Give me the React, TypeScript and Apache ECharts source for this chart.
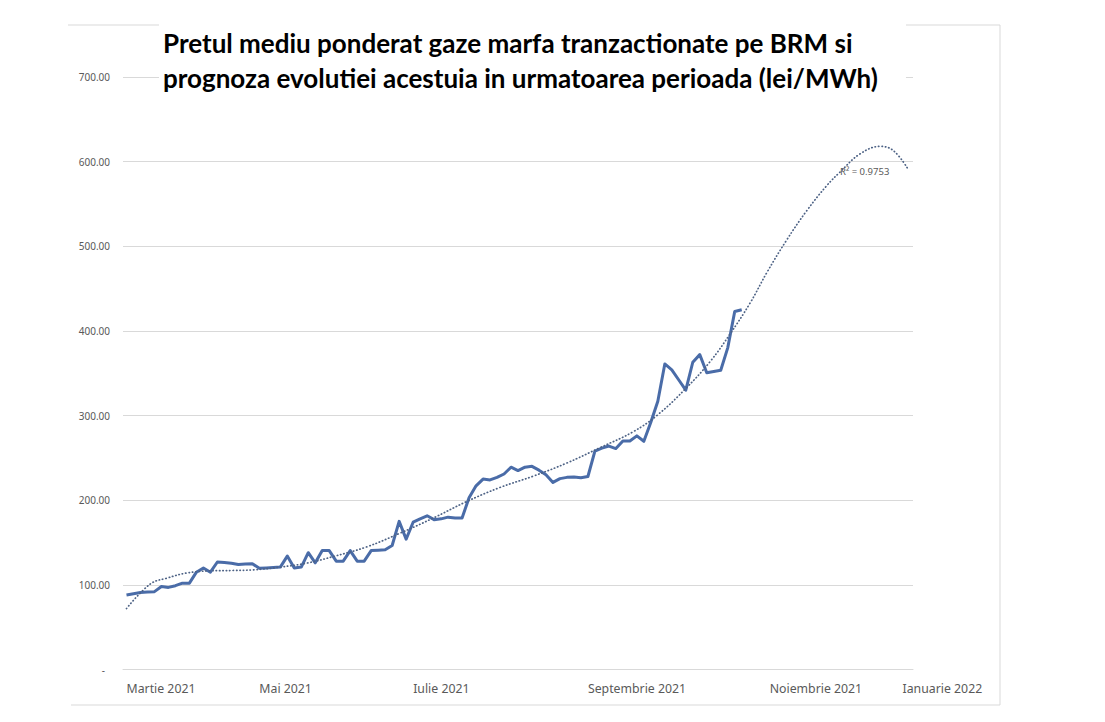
import React, { useEffect, useRef } from "react";
import * as echarts from "echarts";

const TITLE_LINES = [
  "Pretul mediu ponderat gaze marfa tranzactionate pe BRM si",
  "prognoza evolutiei acestuia in urmatoarea perioada (lei/MWh)",
];

const X_TICK_LABELS = [
  "Martie 2021",
  "Mai 2021",
  "Iulie 2021",
  "Septembrie 2021",
  "Noiembrie 2021",
  "Ianuarie 2022",
];
const X_TICK_INDEX = [0, 19, 41, 66, 92, 111];
const X_COUNT = 113;

const PRICES = [
  88, 89.5, 91, 91.5, 92, 98, 97, 99, 102, 102,
  115, 120, 115, 127, 126.5, 125.5, 124, 124.5, 125, 119.5,
  120, 120.5, 121, 134, 120, 121, 138, 126, 140.5, 140.5,
  128, 128, 140.5, 128, 128, 140.5, 141, 141.5, 146.5, 175,
  154, 174, 178, 181.6, 177, 178, 180, 179, 179, 203,
  217, 225, 224, 227, 231, 239, 235, 239, 240, 235.5,
  230, 221, 225.5, 227, 227.5, 226.5, 228, 258, 261.5, 264,
  261, 270, 270, 276, 269.6, 292, 317, 361, 354, 342,
  330, 363, 372, 350.5, 352, 353.5, 380, 423, 425,
];

const TREND_INDEX = [
  0, 3.4, 5.8, 8.6, 11.9, 15.3, 18.1, 22, 25.8, 29.6, 34.4, 39.1, 43.9, 48.7,
  53.4, 58.2, 63, 67.7, 72.5, 76, 80, 83.5, 86.3, 89.2, 91.6, 94.4, 97.3, 100.2,
  102.1, 104.9, 107.8, 109.7, 111.8,
];
const TREND_VALUES = [
  72, 101, 108, 114, 116.5, 117, 117.7, 121, 125.7, 133.5, 145, 161, 179, 198.6,
  215, 228.5, 244, 262, 281, 301, 332, 364, 396, 433, 469, 507, 542, 572,
  588, 609, 618, 613, 591,
];

const R2_TEXT = "R² = 0.9753";

const Y_MIN = 0;
const Y_MAX = 700;
const Y_STEP = 100;

export default function App() {
  const ref = useRef<HTMLDivElement>(null);

  useEffect(() => {
    if (!ref.current) return;
    const chart = echarts.init(ref.current, null, { renderer: "svg" });
    const font = "'Noto Sans', 'Open Sans', sans-serif";
    chart.setOption({
      animation: false,
      backgroundColor: "#ffffff",
      title: {
        text: TITLE_LINES.join("\n"),
        left: 159,
        top: 19,
        padding: [6, 28, 10, 4],
        backgroundColor: "#ffffff",
        textStyle: {
          fontFamily: "Lato, 'Open Sans', sans-serif",
          fontWeight: "bold",
          fontSize: 26,
          lineHeight: 35,
          color: "#000000",
        },
      },
      grid: { left: 123, right: 192, top: 77, bottom: 52.5 },
      xAxis: {
        type: "value",
        min: -0.5,
        max: X_COUNT - 0.5,
        axisLine: { show: true, lineStyle: { color: "#d9d9d9", width: 1 } },
        axisTick: { show: false },
        splitLine: { show: false },
        axisLabel: {
          customValues: X_TICK_INDEX,
          formatter: (v: number) => {
            const k = X_TICK_INDEX.indexOf(Math.round(v));
            return k >= 0 ? X_TICK_LABELS[k] : "";
          },
          align: "left",
          margin: 13,
          fontSize: 12.3,
          fontFamily: font,
          color: "#595959",
        },
      },
      yAxis: {
        type: "value",
        min: Y_MIN,
        max: Y_MAX,
        interval: Y_STEP,
        axisLine: { show: false },
        axisTick: { show: false },
        splitLine: { lineStyle: { color: "#d9d9d9", width: 1 } },
        axisLabel: {
          margin: 13,
          fontSize: 10,
          fontFamily: font,
          color: "#595959",
          formatter: (v: number) => (v === 0 ? "{z|-}" : v.toFixed(2)),
          rich: {
            z: { padding: [0, 5, 0, 0], fontSize: 10, fontFamily: font, color: "#595959" },
          },
        },
      },
      series: [
        {
          type: "line",
          name: "pret",
          data: PRICES.map((v, i) => [i, v]),
          showSymbol: false,
          symbol: "none",
          lineStyle: { color: "#4a6ca8", width: 3, join: "round" },
          itemStyle: { color: "#4a6ca8" },
          z: 3,
        },
        {
          type: "line",
          name: "trend",
          data: TREND_INDEX.map((x, i) => [x, TREND_VALUES[i]]),
          smooth: 0.4,
          showSymbol: false,
          symbol: "none",
          lineStyle: { color: "#4d6285", width: 1.7, type: [0.4, 3], cap: "round" },
          itemStyle: { color: "#4d6285" },
          z: 4,
        },
      ],
      graphic: [
        {
          type: "polyline",
          shape: { points: [[68, 25], [1000, 25], [1000, 705], [71, 705]] },
          style: { stroke: "#d9d9d9", fill: null, lineWidth: 1 },
          z: 0,
          silent: true,
        },
        {
          type: "text",
          x: 840,
          y: 171,
          style: {
            text: R2_TEXT,
            fontSize: 9.5,
            fontFamily: font,
            fill: "#595959",
            verticalAlign: "middle",
            align: "left",
          },
          z: 5,
        },
      ],
    });
    return () => chart.dispose();
  }, []);

  return (
    <div
      ref={ref}
      style={{ position: "fixed", left: 0, top: 0, width: 1105, height: 722, background: "#fff" }}
    />
  );
}
